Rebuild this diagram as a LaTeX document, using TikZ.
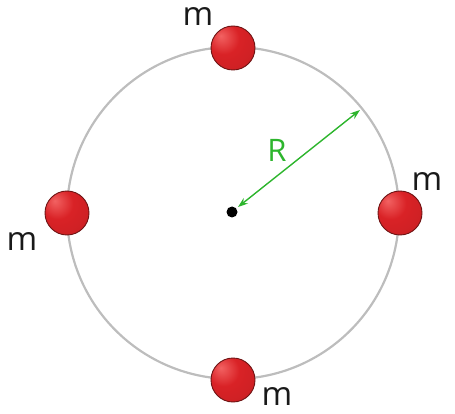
\documentclass[tikz,border=0pt]{standalone}
\usepackage{fontspec}
\setsansfont{Open Sans}
\usetikzlibrary{arrows.meta}
\definecolor{rimgray}{HTML}{BDBDBD}
\definecolor{arrgreen}{HTML}{2DB52D}
\definecolor{ballred}{HTML}{D92226}
\definecolor{balldark}{HTML}{6E1414}
\definecolor{balllight}{HTML}{F26262}
\definecolor{ballshadow}{HTML}{A81418}
\pgfdeclareradialshading{massball}{\pgfpoint{-14bp}{14bp}}{%
  color(0bp)=(balllight); color(18bp)=(ballred); color(50bp)=(ballred!90!black);
  color(66bp)=(ballshadow); color(80bp)=(ballshadow)}
\begin{document}
\begin{tikzpicture}[x=1pt,y=-1pt,
  mass/.style={circle,draw=balldark,line width=0.9pt,minimum size=44pt,inner sep=0pt,
    shading=massball},
  lbl/.style={font=\sffamily\fontsize{33}{40}\selectfont,text=black!90,inner sep=0pt},
  rlbl/.style={font=\sffamily\fontsize{31}{38}\selectfont,text=arrgreen,inner sep=0pt},
  rim/.style={draw=rimgray,line width=2.2pt},
  radius arrow/.style={draw=arrgreen,line width=1.4pt,{Stealth[length=10pt,width=7pt]}-{Stealth[length=10pt,width=7pt]}}]
\useasboundingbox (0,0) rectangle (455,414);
\coordinate (O) at (233,213);
\draw[rim] (O) circle[radius=166];
\node[mass] (top) at (233,48) {};
\node[mass] (bottom) at (233,380) {};
\node[mass] (left) at (67,213) {};
\node[mass] (right) at (400,213) {};
\node[circle,fill=black,minimum size=11pt,inner sep=0pt] (dot) at (232,212) {};
\coordinate (Rin) at (238,207);
\coordinate (Rout) at (360,110);
\draw[radius arrow] (Rin) -- (Rout);
\node[rlbl] (R) at (277,150) {R};
\node[lbl] (mtop) at (198,17) {m};
\node[lbl] (mright) at (427,182) {m};
\node[lbl] (mleft) at (22,242) {m};
\node[lbl] (mbottom) at (277,397) {m};
\end{tikzpicture}
\end{document}
